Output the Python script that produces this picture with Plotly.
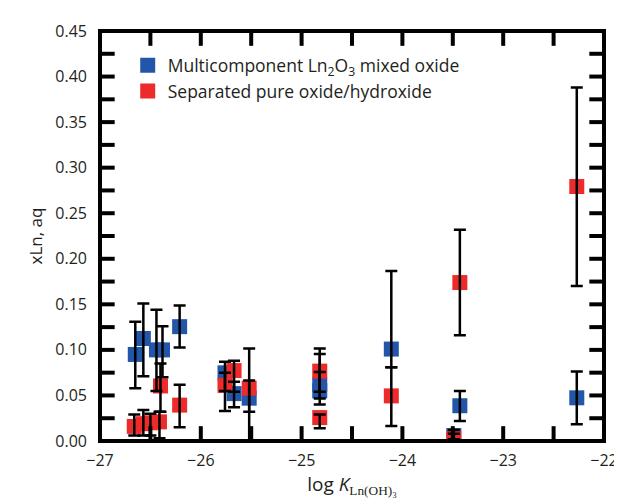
import plotly.graph_objects as go

# Multicomponent Ln2O3 mixed oxide (blue)
blue_x = [-26.65, -26.57, -26.44, -26.38, -26.21, -25.76, -25.67, -25.52, -24.82, -24.82, -24.11, -23.49, -23.43, -22.27]
blue_y = [0.095, 0.1125, 0.100, 0.100, 0.1255, 0.0748, 0.052, 0.047, 0.062, 0.055, 0.1009, 0.006, 0.0387, 0.0474]
blue_lo = [0.058, 0.071, 0.055, 0.070, 0.1027, 0.055, 0.037, 0.000, 0.0466, 0.040, 0.081, 0.002, 0.022, 0.0184]
blue_hi = [0.131, 0.151, 0.144, 0.126, 0.1486, 0.087, 0.065, 0.0665, 0.0954, 0.0756, 0.1866, 0.012, 0.055, 0.0763]

# Separated pure oxide/hydroxide (red)
red_x = [-26.66, -26.57, -26.50, -26.41, -26.40, -26.21, -25.76, -25.67, -25.52, -24.82, -24.82, -24.11, -23.49, -23.43, -22.27]
red_y = [0.016, 0.019, 0.020, 0.021, 0.0604, 0.0394, 0.061, 0.0773, 0.058, 0.0767, 0.0257, 0.0495, 0.003, 0.1739, 0.2793]
red_lo = [0.006, 0.006, 0.006, 0.003, 0.032, 0.015, 0.033, 0.054, 0.032, 0.054, 0.014, 0.0166, 0.000, 0.116, 0.170]
red_hi = [0.029, 0.034, 0.030, 0.032, 0.085, 0.0618, 0.075, 0.088, 0.1016, 0.1016, 0.029, 0.081, 0.008, 0.2318, 0.388]

# tick positions (inward tick marks on all four sides)
x_tick_pos = [-27 + 0.5 * i for i in range(11)]
y_tick_pos = [0.025 * i for i in range(19)]

BLUE = "#2356A8"
RED = "#EE2B2B"
TXT = "#231f20"
FONT = "Open Sans"

fig = go.Figure()
fig.add_trace(go.Scatter(x=blue_x, y=blue_y, mode="markers",
                         name="Multicomponent Ln<sub>2</sub>O<sub>3</sub> mixed oxide",
                         marker=dict(symbol="square", size=15, color=BLUE)))
fig.add_trace(go.Scatter(x=red_x, y=red_y, mode="markers",
                         name="Separated pure oxide/hydroxide",
                         marker=dict(symbol="square", size=15, color=RED)))
for xs, ys, lo, hi in [(blue_x, blue_y, blue_lo, blue_hi), (red_x, red_y, red_lo, red_hi)]:
    fig.add_trace(go.Scatter(
        x=xs, y=ys, mode="markers", showlegend=False, hoverinfo="skip",
        marker=dict(size=1, color="rgba(0,0,0,0)"),
        error_y=dict(type="data", symmetric=False,
                     array=[h - y for h, y in zip(hi, ys)],
                     arrayminus=[y - l for l, y in zip(lo, ys)],
                     color="black", thickness=2.5, width=6)))

# frame and inward ticks drawn as shapes tied to the axes
W, H = 515.0, 415.0
TL = 15.0
shapes = [dict(type="rect", xref="x domain", yref="y domain", x0=0, x1=1, y0=0, y1=1,
               line=dict(color="black", width=4), layer="above")]
for xv in x_tick_pos:
    shapes.append(dict(type="line", xref="x", yref="y domain", x0=xv, x1=xv, y0=0, y1=TL / H,
                       line=dict(color="black", width=4), layer="above"))
    shapes.append(dict(type="line", xref="x", yref="y domain", x0=xv, x1=xv, y0=1, y1=1 - TL / H,
                       line=dict(color="black", width=4), layer="above"))
for yv in y_tick_pos:
    shapes.append(dict(type="line", xref="x domain", yref="y", x0=0, x1=TL / W, y0=yv, y1=yv,
                       line=dict(color="black", width=4), layer="above"))
    shapes.append(dict(type="line", xref="x domain", yref="y", x0=1, x1=1 - TL / W, y0=yv, y1=yv,
                       line=dict(color="black", width=4), layer="above"))

fig.update_layout(width=622, height=499, margin=dict(l=92, r=15, t=18, b=66),
                  plot_bgcolor="white", paper_bgcolor="white", shapes=shapes,
                  legend=dict(x=0.055, y=0.96, xanchor="left", yanchor="top",
                              bgcolor="rgba(0,0,0,0)",
                              font=dict(family=FONT, size=17.5, color=TXT)))
fig.update_xaxes(range=[-27, -22], showline=False, ticks="", showgrid=False, zeroline=False,
                 tick0=-27, dtick=1, ticklabelstandoff=8,
                 tickfont=dict(family=FONT, size=16, color=TXT),
                 title=dict(text="log <i>K</i><sub><span style='font-family:Liberation Serif'>Ln(OH)\u2083</span></sub>",
                            standoff=6, font=dict(family=FONT, size=19, color=TXT)))
fig.update_yaxes(range=[0, 0.45], showline=False, ticks="", showgrid=False, zeroline=False,
                 tick0=0, dtick=0.05, tickformat=".2f", ticklabelstandoff=12,
                 tickfont=dict(family=FONT, size=16, color=TXT),
                 title=dict(text="xLn, aq", standoff=8, font=dict(family=FONT, size=17, color=TXT)))

fig.write_html("out.html")
